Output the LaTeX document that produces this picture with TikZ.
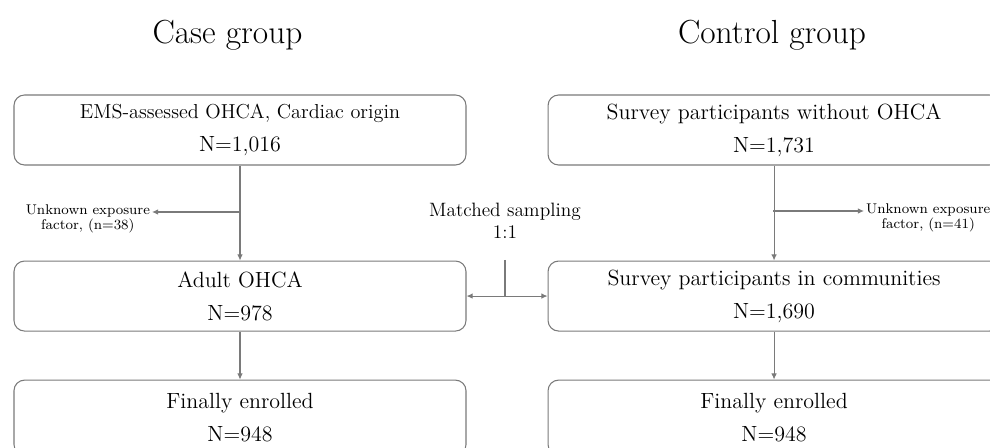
\documentclass[tikz,border=0pt]{standalone}
\usepackage{tikz}
\usetikzlibrary{arrows.meta,positioning}
\usepackage{xcolor}
\definecolor{linegray}{HTML}{7A7A7A}

\begin{document}
\begin{tikzpicture}[
      box/.style={
        draw=linegray, line width=0.6pt, rounded corners=6pt,
        minimum height=1.4cm, minimum width=9.04cm,
        align=center, font=\fontsize{12.5}{18.7}\selectfont
      },
      title/.style={font=\fontsize{19}{22}\selectfont},
      note/.style={align=center, font=\fontsize{8}{8.6}\selectfont, inner sep=1pt},
      arrow/.style={-{Latex[length=3.5pt,width=3.2pt]}, draw=linegray, line width=0.6pt},
      link/.style={draw=linegray, line width=0.6pt}
    ]
      \useasboundingbox (0,0) rectangle (19.8,-8.96);

      \node[title] (case) at (4.55,-0.7) {Case group};
      \node[title] (ctrl) at (15.44,-0.7) {Control group};

      % case column
      \node[box] (ohca) at (4.8,-2.6) {{\fontsize{11.5}{14}\selectfont EMS-assessed OHCA, Cardiac origin}\\N=1,016};
      \node[box, below=1.9cm of ohca] (adult) {Adult OHCA\\N=978};
      \node[box, below=0.96cm of adult, minimum height=1.5cm] (caseend) {Finally enrolled\\N=948};

      % control column
      \node[box, right=1.62cm of ohca] (survey) {Survey participants without OHCA\\N=1,731};
      \node[box, below=1.9cm of survey] (commun) {Survey participants in communities\\N=1,690};
      \node[box, below=0.96cm of commun, minimum height=1.5cm] (ctrlend) {Finally enrolled\\N=948};

      % exclusions
      \coordinate (brL) at (4.8,-4.24);
      \coordinate (brR) at (15.46,-4.22);
      \node[note, anchor=north east] (exL) at (3.04,-4.06) {Unknown exposure\\factor, (n=38)};
      \node[note, anchor=north west] (exR) at (17.28,-4.04) {Unknown exposure\\factor, (n=41)};

      \draw[arrow] (ohca) -- (adult);
      \draw[arrow] (brL) -- (brL -| exL.east);
      \draw[arrow] (survey) -- (commun);
      \draw[arrow] (brR) -- (brR -| exR.west);
      \draw[arrow] (adult) -- (caseend);
      \draw[arrow] (commun) -- (ctrlend);

      % matching
      \node[align=center, font=\fontsize{11}{12.5}\selectfont] (match) at (10.1,-4.42) {Matched sampling\\1:1};
      \coordinate (mtop) at (10.1,-5.2);
      \draw[arrow, {Latex[length=3.5pt,width=3.2pt]}-{Latex[length=3.5pt,width=3.2pt]}] (adult) -- (commun);
      \draw[link] (mtop) -- (mtop |- adult.east);
    \end{tikzpicture}
\end{document}
